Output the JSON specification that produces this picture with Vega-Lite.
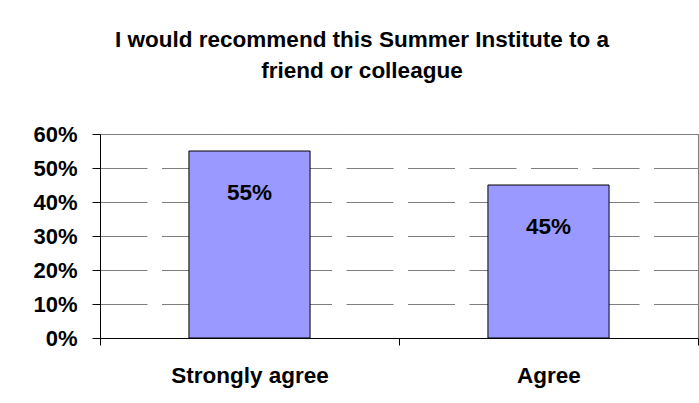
{
  "$schema": "https://vega.github.io/schema/vega-lite/v6.json",
  "width": 598,
  "height": 204,
  "autosize": "none",
  "padding": {"left": 100, "top": 134, "right": 1, "bottom": 65},
  "background": "white",
  "title": {
    "text": ["I would recommend this Summer Institute to a", "friend or colleague"],
    "font": "Liberation Sans",
    "fontSize": 22.5,
    "fontWeight": "bold",
    "color": "black",
    "anchor": "middle",
    "dx": -37,
    "lineHeight": 31,
    "baseline": "alphabetic",
    "offset": 23
  },
  "config": {
    "view": {"stroke": "#808080", "strokeWidth": 1},
    "font": "Liberation Sans"
  },
  "data": {
    "values": [
      {"response": "Strongly agree", "pct": 0.55},
      {"response": "Agree", "pct": 0.45}
    ]
  },
  "encoding": {
    "x": {
      "field": "response",
      "type": "nominal",
      "sort": null,
      "scale": {"paddingInner": 0, "paddingOuter": 0},
      "axis": {
        "title": null,
        "labelAngle": 0,
        "labelFont": "Liberation Sans",
        "labelFontSize": 22.5,
        "labelFontWeight": "bold",
        "labelColor": "black",
        "labelBaseline": "alphabetic",
        "labelPadding": 37,
        "tickBand": "extent",
        "tickSize": 7,
        "tickColor": "black",
        "domainColor": "black",
        "grid": false
      }
    },
    "y": {
      "field": "pct",
      "type": "quantitative",
      "scale": {"domain": [0, 0.6], "nice": false},
      "axis": {
        "title": null,
        "values": [0, 0.1, 0.2, 0.3, 0.4, 0.5, 0.6],
        "format": ".0%",
        "labelFont": "Liberation Sans",
        "labelFontSize": 22,
        "labelFontWeight": "bold",
        "labelColor": "black",
        "labelPadding": 15,
        "tickSize": 8,
        "tickColor": "black",
        "domainColor": "black",
        "grid": true,
        "gridColor": "#7f7f7f",
        "gridDash": [47, 14.5],
        "gridWidth": 1
      }
    }
  },
  "layer": [
    {
      "mark": {"type": "bar", "width": {"band": 0.405}, "color": "#9999FF", "stroke": "black", "strokeWidth": 1}
    },
    {
      "mark": {"type": "text", "baseline": "alphabetic", "align": "center", "dy": 49, "font": "Liberation Sans", "fontSize": 22.5, "fontWeight": "bold", "color": "black"},
      "encoding": {
        "text": {"field": "pct", "type": "quantitative", "format": ".0%"}
      }
    }
  ]
}
